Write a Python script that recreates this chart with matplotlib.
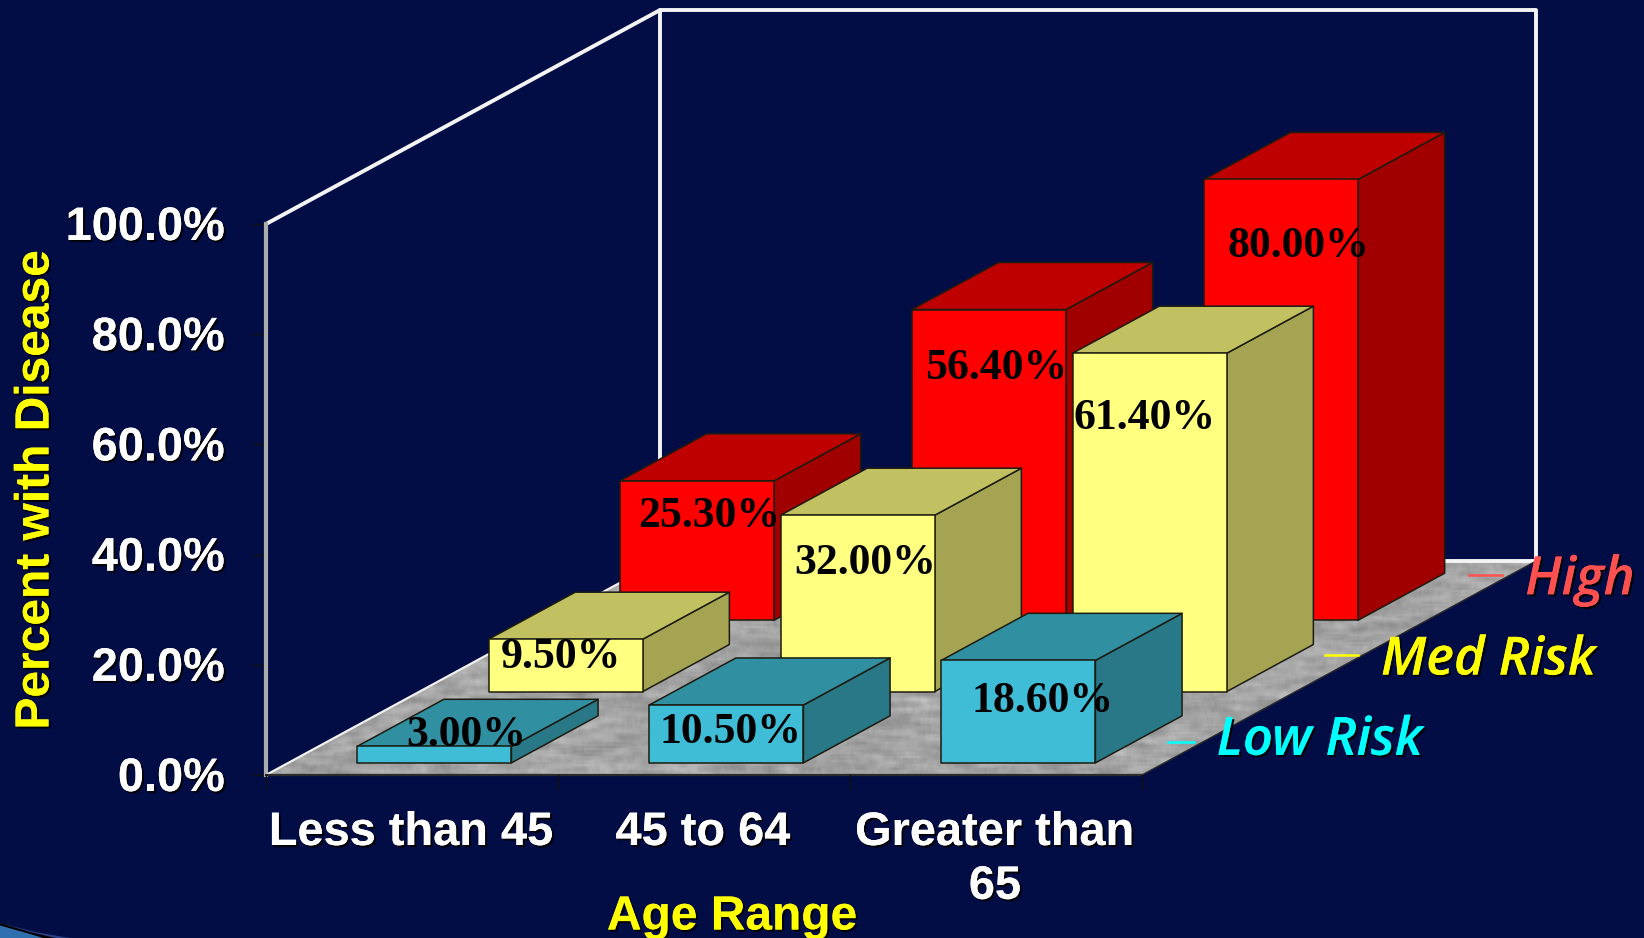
"""
Grouped pseudo-3D bar chart: percent with disease by age range and risk level.

Bars are drawn as flat polygons through a small oblique projection, so the
category axis, the depth axis and the value axis all stay in data units.
"""

import numpy as np
import matplotlib
matplotlib.use("Agg")
import matplotlib.pyplot as plt
import matplotlib.patheffects as pe
from matplotlib.patches import Polygon

W, H = 1644, 938

age_ranges = ["Less than 45", "45 to 64", "Greater than\n65"]
risk_levels = ["Low Risk", "Med Risk", "High"]
low_risk = [3.0, 10.5, 18.6]
med_risk = [9.5, 32.0, 61.4]
high_risk = [25.3, 56.4, 80.0]
y_ticks = [0, 20, 40, 60, 80, 100]

BG = "#030d45"
FACE = {"Low Risk": "#3fbcd6", "Med Risk": "#ffff80", "High": "#ff0000"}
TOP = {"Low Risk": "#318fa2", "Med Risk": "#c2c162", "High": "#bf0000"}
SIDE = {"Low Risk": "#287888", "Med Risk": "#a5a452", "High": "#a00000"}
LEGEND_COL = {"Low Risk": "#00ffff", "Med Risk": "#ffff00", "High": "#ff5050"}

# projection of (category, depth, value) onto the canvas
ORIGIN = (266, 775)
X_STEP = 292.0
D_STEP = (131.3, -71.3)
V_STEP = 5.51

BAR_X0, BAR_X1 = 0.236, 0.764
BAR_D0, BAR_D1 = 0.17, 0.83

# label nudges in pixels, relative to the top-centre of the front face
label_nudge = {
    "Low Risk": [(32, -11), (4, 27), (24, 41)],
    "Med Risk": [(-5, 18), (8, 48), (-5, 65)],
    "High": [(12, 35), (7, 58), (18, 67)],
}

# depth tick dash for each series: right end nudge and length
dash_nudge = {"Low Risk": (-14, 3, 26), "Med Risk": (19, -13, 33), "High": (32, -22, 33)}
# series name baseline shift against its dash
name_shift = {"Low Risk": -1, "Med Risk": 6, "High": 6}


def project(x, d, v):
    return (ORIGIN[0] + X_STEP * x + D_STEP[0] * d,
            ORIGIN[1] + D_STEP[1] * d - V_STEP * v)


def draw_bar(ax, cat, series, value):
    level = risk_levels.index(series)
    x0, x1 = cat + BAR_X0, cat + BAR_X1
    d0, d1 = level + BAR_D0, level + BAR_D1
    front = [project(x0, d0, 0), project(x1, d0, 0), project(x1, d0, value), project(x0, d0, value)]
    side = [project(x1, d0, 0), project(x1, d1, 0), project(x1, d1, value), project(x1, d0, value)]
    top = [project(x0, d0, value), project(x1, d0, value), project(x1, d1, value), project(x0, d1, value)]
    for pts, col in ((side, SIDE[series]), (top, TOP[series]), (front, FACE[series])):
        ax.add_patch(Polygon(pts, closed=True, facecolor=col, edgecolor="#1c1c10", lw=1.1,
                             joinstyle="round", zorder=2))


fig = plt.figure(figsize=(W / 100, H / 100), dpi=100, facecolor=BG)
ax = fig.add_axes([0, 0, 1, 1])
ax.set_xlim(0, W)
ax.set_ylim(H, 0)
ax.axis("off")

shadow = [pe.withSimplePatchShadow(offset=(1.5, -1.5), shadow_rgbFace="black", alpha=0.9), pe.Normal()]

# corner of the slide swoosh
ax.add_patch(Polygon([(0, 923), (35, 932), (70, 938), (0, 938)], closed=True, facecolor="#2b3f85", edgecolor="none"))
ax.add_patch(Polygon([(0, 923), (30, 932), (55, 938), (0, 938)], closed=True, facecolor="black", edgecolor="none"))
ax.add_patch(Polygon([(0, 925.5), (30, 934), (43, 938), (0, 938)], closed=True, facecolor="#2f6fb0", edgecolor="none"))

# floor with a mottled grey finish
floor_pts = [project(0, 0, 0), project(3, 0, 0), project(3, 3, 0), project(0, 3, 0)]
rng = np.random.RandomState(4)
noise = rng.normal(size=(H // 2, W // 2))
kernel = np.ones(11) / 11
noise = np.apply_along_axis(lambda r: np.convolve(r, kernel, mode="same"), 1, noise)
noise = np.apply_along_axis(lambda c: np.convolve(c, np.ones(3) / 3, mode="same"), 0, noise)
floor_tex = ax.imshow(164 + 50 * noise, cmap="gray", vmin=0, vmax=255, extent=(0, W, H, 0),
                      interpolation="bilinear", aspect="auto", zorder=1)
floor_patch = Polygon(floor_pts, closed=True, transform=ax.transData, facecolor="none", edgecolor="none")
ax.add_patch(floor_patch)
floor_tex.set_clip_path(floor_patch)
ax.set_xlim(0, W)
ax.set_ylim(H, 0)

# back wall frame and left wall edges
frame_kw = dict(color="#f4f4f4", lw=2.8, solid_capstyle="round", zorder=1.5)
back = [project(0, 3, 0), project(0, 3, 100), project(3, 3, 100), project(3, 3, 0), project(0, 3, 0)]
ax.plot(*zip(*back), **frame_kw)
ax.plot(*zip(project(0, 0, 100), project(0, 3, 100)), **frame_kw)
ax.plot(*zip(project(0, 0, 0), project(0, 0, 100)), color="#adadb0", lw=3.0, zorder=1.5)
ax.plot(*zip(project(0, 0, 0), project(0, 3, 0)), color="#f0f0f0", lw=1.6, zorder=1.5)
ax.plot(*zip(project(0, 0, 0), project(3, 0, 0)), color="#2a2a2a", lw=1.6, zorder=1.5)
ax.plot(*zip(project(3, 0, 0), project(3, 3, 0)), color="#2a2a2a", lw=1.0, zorder=1.5)

# axis ticks
for v in y_ticks:
    x, y = project(0, 0, v)
    ax.plot([x - 13, x], [y, y], color="#101010", lw=1.0, zorder=1.4)
    ax.text(x - 41, y + 4, f"{v:.1f}%", color="white", fontsize=33.8, fontweight="bold",
            family="Liberation Sans", ha="right", va="center", path_effects=shadow)
for i in range(4):
    x, y = project(i, 0, 0)
    ax.plot([x, x], [y, y + 14], color="#101010", lw=1.0, zorder=1.5)

for i, name in enumerate(age_ranges):
    x, y = project(i + 0.5, 0, 0)
    ax.text(x - 1, y + 36, name, color="white", fontsize=33.8, fontweight="bold", family="Liberation Sans",
            ha="center", va="top", linespacing=1.29, path_effects=shadow)

ax.text(732, 917, "Age Range", color="#ffff00", fontsize=34.5, fontweight="bold", family="Liberation Sans",
        ha="center", va="center", path_effects=shadow)
ax.text(36, 490, "Percent with Disease", color="#ffff00", fontsize=34.5, fontweight="bold",
        family="Liberation Sans", rotation=90, ha="center", va="center", path_effects=shadow)

# bars, back row first
series_values = {"Low Risk": low_risk, "Med Risk": med_risk, "High": high_risk}
for series in reversed(risk_levels):
    for cat, value in enumerate(series_values[series]):
        draw_bar(ax, cat, series, value)

for series in reversed(risk_levels):
    level = risk_levels.index(series)
    for cat, value in enumerate(series_values[series]):
        x, y = project(cat + 0.5, level + BAR_D0, value)
        dx, dy = label_nudge[series][cat]
        ax.text(x + dx, y + dy, f"{value:.2f}%", color="black", fontsize=31.5, fontweight="bold",
                family="Liberation Serif", ha="center", va="center", zorder=5)

# series names on the depth axis with their dash markers
for level, series in enumerate(risk_levels):
    x, y = project(3, level + 0.5, 0)
    dx, dy, length = dash_nudge[series]
    ax.plot([x + dx - length, x + dx], [y + dy, y + dy], color=LEGEND_COL[series], lw=1.8, zorder=3)
    ax.text(x + dx + 23, y + dy + name_shift[series], series, color=LEGEND_COL[series], fontsize=38, fontstyle="italic",
            fontweight="semibold", family="Open Sans", ha="left", va="center", path_effects=shadow)

fig.savefig("out.png", dpi=100, facecolor=BG)
